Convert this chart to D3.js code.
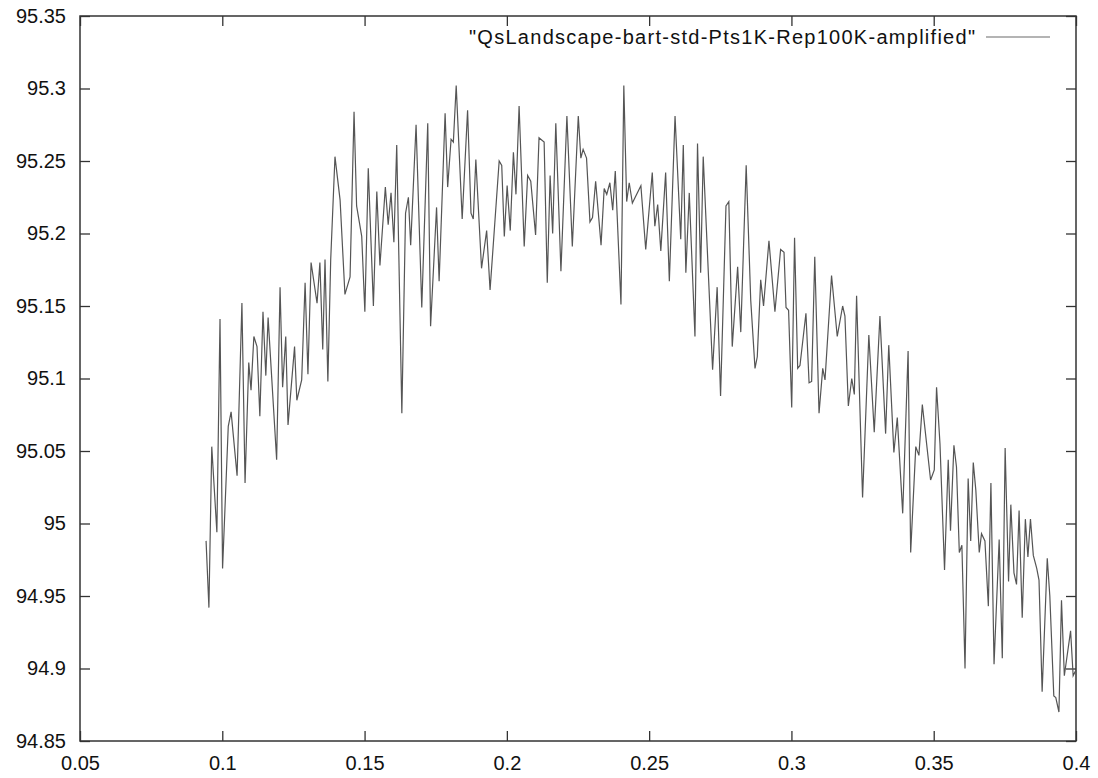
<!DOCTYPE html>
<html>
<head>
<meta charset="utf-8">
<script src="https://cdn.jsdelivr.net/npm/d3@7"></script>
<style>
  body { margin: 0; background: #fff; }
  svg text { font-family: "Liberation Sans", Arial, Helvetica, sans-serif; fill: #111; }
</style>
</head>
<body>
<div id="chart"></div>
<script>
// data
const seriesName = '"QsLandscape-bart-std-Pts1K-Rep100K-amplified"'

const xValues = [
  0.0943, 0.0953, 0.0963, 0.0981, 0.0992, 0.1001, 0.1021, 0.1031, 0.1052, 0.1069,
  0.1080, 0.1093, 0.1101, 0.1111, 0.1122, 0.1132, 0.1143, 0.1153, 0.1161, 0.1191,
  0.1203, 0.1212, 0.1223, 0.1231, 0.1254, 0.1262, 0.1279, 0.1291, 0.1301, 0.1312,
  0.1333, 0.1343, 0.1353, 0.1361, 0.1371, 0.1381, 0.1396, 0.1414, 0.1431, 0.1449,
  0.1463, 0.1472, 0.1490, 0.1501, 0.1513, 0.1531, 0.1543, 0.1554, 0.1573, 0.1583,
  0.1593, 0.1603, 0.1613, 0.1631, 0.1644, 0.1654, 0.1662, 0.1681, 0.1701, 0.1722,
  0.1732, 0.1753, 0.1762, 0.1783, 0.1792, 0.1804, 0.1812, 0.1822, 0.1843, 0.1862,
  0.1874, 0.1882, 0.1891, 0.1911, 0.1929, 0.1941, 0.1973, 0.1982, 0.1991, 0.2001,
  0.2012, 0.2023, 0.2032, 0.2043, 0.2061, 0.2073, 0.2084, 0.2101, 0.2113, 0.2131,
  0.2142, 0.2152, 0.2161, 0.2172, 0.2190, 0.2211, 0.2230, 0.2251, 0.2260, 0.2268,
  0.2280, 0.2292, 0.2301, 0.2312, 0.2331, 0.2342, 0.2351, 0.2362, 0.2372, 0.2381,
  0.2401, 0.2411, 0.2421, 0.2430, 0.2441, 0.2471, 0.2488, 0.2511, 0.2520, 0.2530,
  0.2541, 0.2558, 0.2571, 0.2591, 0.2611, 0.2620, 0.2629, 0.2641, 0.2661, 0.2670,
  0.2681, 0.2690, 0.2723, 0.2739, 0.2751, 0.2770, 0.2780, 0.2792, 0.2811, 0.2822,
  0.2841, 0.2857, 0.2872, 0.2880, 0.2892, 0.2902, 0.2921, 0.2942, 0.2962, 0.2974,
  0.2981, 0.2990, 0.3001, 0.3011, 0.3022, 0.3030, 0.3051, 0.3062, 0.3071, 0.3082,
  0.3097, 0.3110, 0.3118, 0.3141, 0.3161, 0.3180, 0.3188, 0.3200, 0.3212, 0.3221,
  0.3229, 0.3250, 0.3272, 0.3291, 0.3311, 0.3331, 0.3342, 0.3360, 0.3372, 0.3391,
  0.3410, 0.3419, 0.3437, 0.3448, 0.3460, 0.3489, 0.3502, 0.3510, 0.3522, 0.3538,
  0.3551, 0.3559, 0.3571, 0.3580, 0.3590, 0.3599, 0.3610, 0.3621, 0.3630, 0.3639,
  0.3648, 0.3660, 0.3668, 0.3680, 0.3692, 0.3701, 0.3712, 0.3730, 0.3741, 0.3751,
  0.3763, 0.3771, 0.3782, 0.3791, 0.3800, 0.3811, 0.3822, 0.3831, 0.3840, 0.3850,
  0.3862, 0.3870, 0.3881, 0.3899, 0.3908, 0.3922, 0.3929, 0.3940, 0.3949, 0.3959,
  0.3981, 0.3990, 0.4000
]

const yValues = [
  94.988, 94.942, 95.053, 94.994, 95.141, 94.969, 95.067, 95.077, 95.033, 95.152,
  95.028, 95.111, 95.092, 95.129, 95.122, 95.074, 95.146, 95.102, 95.142, 95.044,
  95.163, 95.094, 95.129, 95.068, 95.122, 95.085, 95.099, 95.166, 95.103, 95.180,
  95.152, 95.180, 95.120, 95.182, 95.098, 95.182, 95.253, 95.223, 95.158, 95.170,
  95.284, 95.219, 95.198, 95.146, 95.245, 95.150, 95.229, 95.178, 95.232, 95.206,
  95.228, 95.194, 95.261, 95.076, 95.214, 95.225, 95.192, 95.275, 95.149, 95.276,
  95.136, 95.218, 95.167, 95.283, 95.232, 95.265, 95.263, 95.302, 95.210, 95.285,
  95.214, 95.210, 95.251, 95.176, 95.202, 95.161, 95.250, 95.247, 95.198, 95.233,
  95.202, 95.256, 95.227, 95.288, 95.191, 95.240, 95.236, 95.199, 95.266, 95.263,
  95.166, 95.240, 95.200, 95.276, 95.174, 95.281, 95.191, 95.281, 95.252, 95.258,
  95.252, 95.208, 95.211, 95.236, 95.192, 95.231, 95.227, 95.235, 95.216, 95.243,
  95.151, 95.302, 95.222, 95.235, 95.221, 95.233, 95.189, 95.242, 95.205, 95.220,
  95.188, 95.242, 95.167, 95.281, 95.196, 95.261, 95.173, 95.228, 95.129, 95.262,
  95.173, 95.253, 95.106, 95.163, 95.088, 95.219, 95.222, 95.122, 95.177, 95.132,
  95.247, 95.154, 95.107, 95.115, 95.168, 95.150, 95.195, 95.146, 95.189, 95.187,
  95.149, 95.147, 95.080, 95.197, 95.107, 95.109, 95.145, 95.097, 95.098, 95.184,
  95.076, 95.107, 95.099, 95.171, 95.129, 95.150, 95.143, 95.081, 95.100, 95.089,
  95.157, 95.018, 95.130, 95.063, 95.143, 95.062, 95.123, 95.049, 95.073, 95.007,
  95.119, 94.980, 95.053, 95.047, 95.082, 95.030, 95.037, 95.094, 95.055, 94.968,
  95.044, 94.995, 95.054, 95.039, 94.980, 94.985, 94.900, 95.031, 94.988, 95.042,
  95.023, 94.980, 94.993, 94.988, 94.943, 95.028, 94.903, 94.989, 94.907, 95.052,
  94.960, 95.013, 94.966, 94.958, 95.009, 94.935, 95.003, 94.977, 95.003, 94.978,
  94.969, 94.961, 94.884, 94.976, 94.950, 94.881, 94.880, 94.870, 94.947, 94.895,
  94.926, 94.895, 94.899
]

const xTicks = [0.05, 0.1, 0.15, 0.2, 0.25, 0.3, 0.35, 0.4]
const xTickLabels = ['0.05', '0.1', '0.15', '0.2', '0.25', '0.3', '0.35', '0.4']
const yTicks = [94.85, 94.9, 94.95, 95, 95.05, 95.1, 95.15, 95.2, 95.25, 95.3, 95.35]
const yTickLabels = ['94.85', '94.9', '94.95', '95', '95.05', '95.1', '95.15', '95.2', '95.25', '95.3', '95.35']

const width = 1098
const height = 778
const margin = {top: 16, right: 22, bottom: 37, left: 80}
const innerWidth = width - margin.left - margin.right
const innerHeight = height - margin.top - margin.bottom

const svg = d3.select('#chart').append('svg')
    .attr('width', width)
    .attr('height', height)
    .style('display', 'block')

const g = svg.append('g')
    .attr('transform', `translate(${margin.left},${margin.top})`)

const xScale = d3.scaleLinear()
    .domain([0.05, 0.4])
    .range([0, innerWidth])

const yScale = d3.scaleLinear()
    .domain([94.85, 95.35])
    .range([innerHeight, 0])

const tickLen = 10
const axisColor = '#333'

// bottom / left axes with labels, ticks pointing inwards
const xAxis = d3.axisBottom(xScale)
    .tickValues(xTicks)
    .tickSize(-tickLen)
    .tickPadding(15)
    .tickFormat((d, i) => xTickLabels[i])

const yAxis = d3.axisLeft(yScale)
    .tickValues(yTicks)
    .tickSize(-tickLen)
    .tickPadding(14)
    .tickFormat((d, i) => yTickLabels[i])

// mirrored ticks on top / right, no labels
const xAxisTop = d3.axisTop(xScale).tickValues(xTicks).tickSize(-tickLen)
const yAxisRight = d3.axisRight(yScale).tickValues(yTicks).tickSize(-tickLen)

const xAxisG = g.append('g').attr('transform', `translate(0,${innerHeight})`).call(xAxis)
const yAxisG = g.append('g').call(yAxis)
const xTopG = g.append('g').call(xAxisTop)
const yRightG = g.append('g').attr('transform', `translate(${innerWidth},0)`).call(yAxisRight)

xTopG.selectAll('text').remove()
yRightG.selectAll('text').remove()

for (const ax of [xAxisG, yAxisG, xTopG, yRightG]) {
    ax.select('.domain').remove()
    ax.selectAll('line').attr('stroke', axisColor).attr('stroke-width', 1.3)
    ax.selectAll('text')
        .attr('font-size', 20)
        .attr('font-family', '"Liberation Sans", Arial, sans-serif')
        .attr('fill', '#111')
}

// frame
g.append('rect')
    .attr('x', 0)
    .attr('y', 0)
    .attr('width', innerWidth)
    .attr('height', innerHeight)
    .attr('fill', 'none')
    .attr('stroke', axisColor)
    .attr('stroke-width', 1.5)

// the curve
const points = xValues.map((x, i) => [x, yValues[i]])

const lineGenerator = d3.line()
    .x(d => xScale(d[0]))
    .y(d => yScale(d[1]))

g.append('path')
    .attr('class', 'line-path')
    .attr('d', lineGenerator(points))
    .attr('fill', 'none')
    .attr('stroke', '#555')
    .attr('stroke-width', 1.2)

// legend, top right
const legendG = g.append('g').attr('class', 'legend')

legendG.append('text')
    .attr('text-anchor', 'end')
    .attr('x', innerWidth - 101)
    .attr('y', 21)
    .attr('dy', '0.35em')
    .attr('font-size', 20)
    .attr('textLength', 506)
    .attr('lengthAdjust', 'spacing')
    .text(seriesName)

legendG.append('line')
    .attr('x1', innerWidth - 90)
    .attr('x2', innerWidth - 26)
    .attr('y1', 21)
    .attr('y2', 21)
    .attr('stroke', '#b4b4b4')
    .attr('stroke-width', 2)
</script>
</body>
</html>
